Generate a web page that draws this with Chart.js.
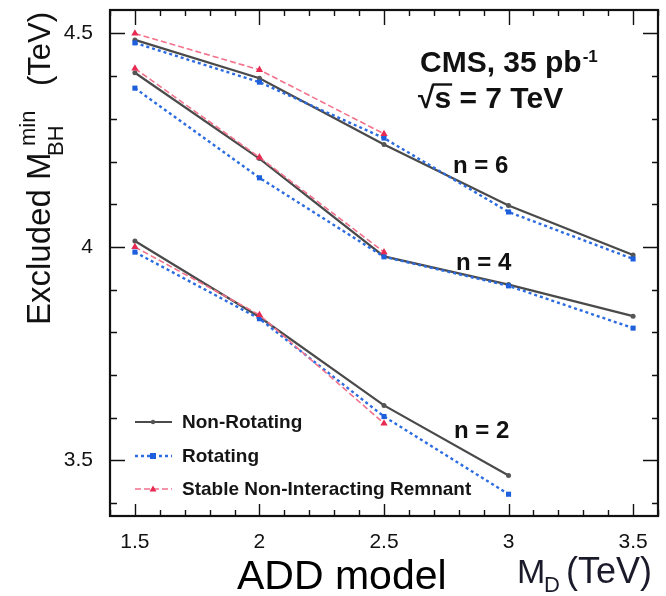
<!DOCTYPE html>
<html>
<head>
<meta charset="utf-8">
<title>Excluded black hole mass</title>
<script src="https://cdn.jsdelivr.net/npm/chart.js@4.4.1/dist/chart.umd.min.js"></script>
<style>
  html, body { margin: 0; padding: 0; background: #fff; }
  canvas { display: block; }
</style>
</head>
<body>
<canvas id="bhChart" width="666" height="596"></canvas>
<script>
// M_D values (TeV)
const mD = [1.5, 2, 2.5, 3, 3.5];

// n = 6
const nonRot6 = [4.485, 4.395, 4.24, 4.097, 3.981];
const rot6 = [4.478, 4.386, 4.255, 4.082, 3.972];
const snir6 = [4.50, 4.415, 4.265];

// n = 4
const nonRot4 = [4.408, 4.207, 3.978, 3.912, 3.838];
const rot4 = [4.372, 4.162, 3.977, 3.909, 3.81];
const snir4 = [4.418, 4.21, 3.988];

// n = 2
const nonRot2 = [4.014, 3.836, 3.629, 3.465];
const rot2 = [3.988, 3.832, 3.603, 3.421];
const snir2 = [4.0, 3.841, 3.587];

const xTicks = [1.5, 2, 2.5, 3, 3.5];
const yTicks = [3.5, 4, 4.5];

const FONT = '"Liberation Sans", Arial, Helvetica, sans-serif';

const styles = {
    nonRot: { label: 'Non-Rotating', borderColor: '#4a4a4a', backgroundColor: '#555', borderWidth: 2.2, borderDash: [], pointStyle: 'circle', pointRadius: 2.5 },
    rot: { label: 'Rotating', borderColor: '#2c6ce0', backgroundColor: '#1d5fdc', borderWidth: 2.4, borderDash: [3, 3], pointStyle: 'rect', pointRadius: 3.6 },
    snir: { label: 'Stable Non-Interacting Remnant', borderColor: '#f2728c', backgroundColor: '#e62a52', borderWidth: 1.6, borderDash: [6, 3], pointStyle: 'triangle', pointRadius: 4.2 }
};

function pts(vals) {
    return vals.map((v, i) => ({ x: mD[i], y: v }));
}

function makeSet(kind, vals) {
    const s = styles[kind];
    return {
        label: s.label,
        data: pts(vals),
        borderColor: s.borderColor,
        backgroundColor: s.backgroundColor,
        borderWidth: s.borderWidth,
        borderDash: s.borderDash,
        pointStyle: s.pointStyle,
        pointRadius: s.pointRadius,
        pointBorderWidth: 0,
        pointBackgroundColor: s.backgroundColor,
        tension: 0,
        fill: false
    };
}

function rotatedText(ctx, text, x, y, font) {
    ctx.save();
    ctx.translate(x, y);
    ctx.rotate(-Math.PI / 2);
    ctx.font = font;
    ctx.fillText(text, 0, 0);
    ctx.restore();
}

// keep the plot box where it is: no extra room for the tick labels
function fixBox(scale) {
    scale.paddingTop = 0;
    scale.paddingBottom = 0;
    scale.paddingLeft = 0;
    scale.paddingRight = 0;
}

// frame, inward ticks, legend and text labels
const decorations = {
    id: 'decorations',
    afterDatasetsDraw(chart) {
        const ctx = chart.ctx;
        const a = chart.chartArea;
        const xs = chart.scales.x, ys = chart.scales.y;
        ctx.save();
        ctx.strokeStyle = '#111';
        ctx.lineWidth = 1.4;
        ctx.beginPath();
        for (let k = 14; k <= 36; k++) {
            const px = Math.round(xs.getPixelForValue(k / 10)) + 0.5;
            const major = k % 5 === 0;
            ctx.moveTo(px, a.bottom); ctx.lineTo(px, a.bottom - (major ? 12 : 6));
            ctx.moveTo(px, a.top); ctx.lineTo(px, a.top + (major ? 15 : 6));
        }
        for (let k = 34; k <= 45; k++) {
            const py = Math.round(ys.getPixelForValue(k / 10)) + 0.5;
            const major = k % 5 === 0;
            ctx.moveTo(a.left, py); ctx.lineTo(a.left + (major ? 15 : 7), py);
            ctx.moveTo(a.right, py); ctx.lineTo(a.right - (major ? 15 : 6), py);
        }
        ctx.stroke();
        ctx.lineWidth = 2.2;
        ctx.strokeRect(a.left, a.top, a.right - a.left, a.bottom - a.top);

        // legend
        const rows = [['nonRot', 422], ['rot', 456], ['snir', 489]];
        rows.forEach(([kind, y]) => {
            const s = styles[kind];
            ctx.strokeStyle = s.borderColor;
            ctx.lineWidth = s.borderWidth;
            ctx.setLineDash(s.borderDash);
            ctx.beginPath();
            ctx.moveTo(135, y); ctx.lineTo(172, y);
            ctx.stroke();
            ctx.setLineDash([]);
            ctx.fillStyle = s.backgroundColor;
            ctx.beginPath();
            if (s.pointStyle === 'circle') ctx.arc(153, y, 2.2, 0, Math.PI * 2);
            else if (s.pointStyle === 'rect') ctx.rect(150, y - 3, 6, 6);
            else { ctx.moveTo(153, y - 3.5); ctx.lineTo(156.5, y + 2.5); ctx.lineTo(149.5, y + 2.5); ctx.closePath(); }
            ctx.fill();
            ctx.fillStyle = '#151515';
            ctx.font = 'bold 19px ' + FONT;
            ctx.textAlign = 'left';
            ctx.textBaseline = 'alphabetic';
            ctx.fillText(s.label, 182, y + 6);
        });

        // CMS label
        ctx.fillStyle = '#111';
        ctx.textAlign = 'left';
        ctx.textBaseline = 'alphabetic';
        ctx.font = 'bold 30px ' + FONT;
        ctx.fillText('CMS, 35 pb', 420, 72);
        const w = ctx.measureText('CMS, 35 pb').width;
        ctx.font = 'bold 17px ' + FONT;
        ctx.fillText('-1', 420 + w + 1, 62);
        ctx.font = 'bold 30px ' + FONT;
        ctx.fillText('\u221As = 7 TeV', 418, 108);
        const rw = ctx.measureText('\u221A').width;
        const sw = ctx.measureText('s').width;
        ctx.strokeStyle = '#111';
        ctx.lineWidth = 2.4;
        ctx.beginPath();
        ctx.moveTo(418 + rw - 2, 84.5); ctx.lineTo(418 + rw + sw + 1, 84.5);
        ctx.stroke();

        // curve labels
        ctx.font = 'bold 24px ' + FONT;
        ctx.fillText('n = 6', 453, 173);
        ctx.fillText('n = 4', 456, 270);
        ctx.fillText('n = 2', 454, 438);

        // y title
        ctx.fillStyle = '#111';
        rotatedText(ctx, 'Excluded M', 50, 325, '33px ' + FONT);
        rotatedText(ctx, 'min', 35, 146, '22px ' + FONT);
        rotatedText(ctx, 'BH', 63, 156, '22px ' + FONT);
        rotatedText(ctx, '(TeV)', 50, 86, '31px ' + FONT);

        // x title
        ctx.fillStyle = '#1a1a2a';
        ctx.font = '34px ' + FONT;
        ctx.fillText('M', 517, 583);
        ctx.font = '22px ' + FONT;
        ctx.fillText('D', 544, 592);
        ctx.font = '36px ' + FONT;
        ctx.fillText('(TeV)', 566, 583);

        ctx.fillStyle = '#000';
        ctx.font = '41px ' + FONT;
        ctx.fillText('ADD model', 237, 589);
        ctx.restore();
    }
};

new Chart(document.getElementById('bhChart').getContext('2d'), {
    type: 'line',
    data: {
        datasets: [
            makeSet('snir', snir6), makeSet('snir', snir4), makeSet('snir', snir2),
            makeSet('rot', rot6), makeSet('rot', rot4), makeSet('rot', rot2),
            makeSet('nonRot', nonRot6), makeSet('nonRot', nonRot4), makeSet('nonRot', nonRot2)
        ]
    },
    plugins: [decorations],
    options: {
        responsive: false,
        animation: false,
        layout: { padding: { top: 10, right: 8, left: 0, bottom: 0 } },
        plugins: { legend: { display: false }, tooltip: { enabled: false } },
        scales: {
            x: {
                type: 'linear',
                min: 1.4,
                max: 3.6,
                grid: { display: false },
                border: { display: false },
                afterFit(scale) { scale.height = 80; fixBox(scale); },
                afterBuildTicks(scale) { scale.ticks = xTicks.map(v => ({ value: v })); },
                ticks: {
                    padding: 6,
                    color: '#111',
                    font: { family: FONT, size: 21 },
                    callback: v => String(v)
                }
            },
            y: {
                type: 'linear',
                min: 3.37,
                max: 4.555,
                grid: { display: false },
                border: { display: false },
                afterFit(scale) { scale.width = 110; fixBox(scale); },
                afterBuildTicks(scale) { scale.ticks = yTicks.map(v => ({ value: v })); },
                ticks: {
                    padding: 9,
                    color: '#111',
                    font: { family: FONT, size: 21 },
                    callback: v => String(v)
                }
            }
        }
    }
});
</script>
</body>
</html>
